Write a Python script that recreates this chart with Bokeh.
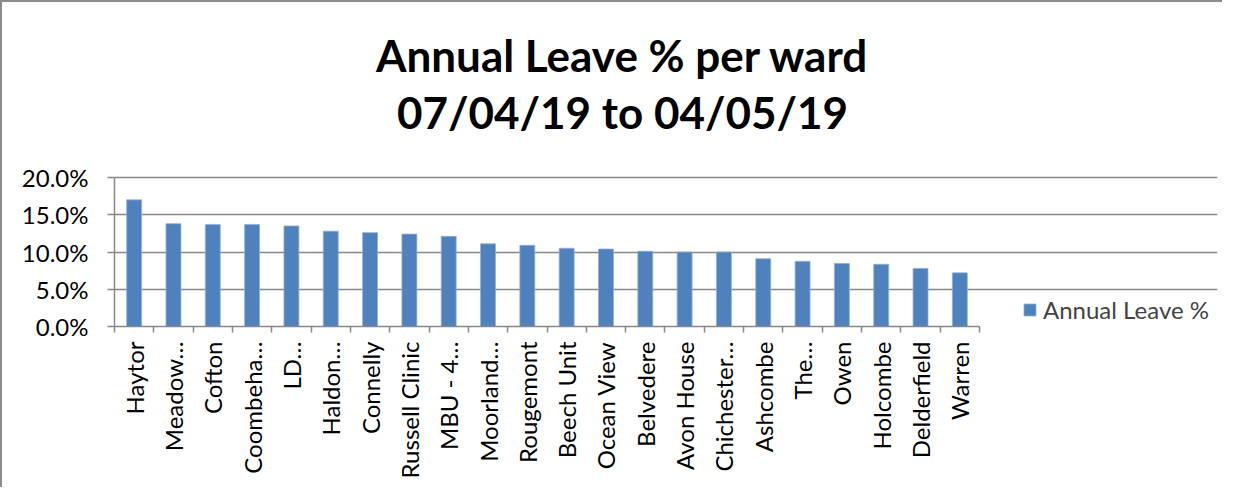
import numpy as np
from bokeh.plotting import figure
from bokeh.models import (ColumnDataSource, FixedTicker, NumeralTickFormatter, Range1d,
                          Label, Legend, LegendItem)
from bokeh.embed import file_html
from bokeh.resources import INLINE

wards = ["Haytor", "Meadow…", "Cofton", "Coombeha…", "LD…", "Haldon…", "Connelly",
         "Russell Clinic", "MBU - 4…", "Moorland…", "Rougemont", "Beech Unit",
         "Ocean View", "Belvedere", "Avon House", "Chichester…", "Ashcombe", "The…",
         "Owen", "Holcombe", "Delderfield", "Warren"]
leave_pct = [17.0, 13.8, 13.7, 13.7, 13.5, 12.8, 12.6, 12.4, 12.1, 11.1, 10.9, 10.5,
             10.4, 10.1, 10.0, 10.0, 9.1, 8.75, 8.45, 8.35, 7.8, 7.2]
y_ticks = [0.0, 0.05, 0.10, 0.15, 0.20]
title_lines = ["Annual Leave % per ward", "07/04/19 to 04/05/19"]
series_name = "Annual Leave %"

n = len(wards)
xpos = np.arange(n) + 0.5
src = ColumnDataSource(dict(x=xpos, y=np.array(leave_pct) / 100.0, ward=wards))

FONT = "Lato"
BAR = "#4F81BD"
GRID = "#888888"

W, H = 1222, 487
LEFT, RIGHT, TOP, BOTTOM = 114, 5, 0, 161
frame_w = W - LEFT - RIGHT
cat_px = 865.0 / n                 # category width in the reference, px
x_end = frame_w / cat_px
px_per_unit = 149.0 / 0.2          # 0..20% spans 149 px in the reference
y_end = 0.2 + 177.0 / px_per_unit  # frame reaches up to the top of the figure

p = figure(width=W, height=H, output_backend="svg", toolbar_location=None,
           x_range=Range1d(0, x_end), y_range=Range1d(0, y_end),
           min_border_left=LEFT, min_border_right=RIGHT, min_border_top=TOP,
           min_border_bottom=BOTTOM)
p.outline_line_color = None
p.background_fill_alpha = 0
p.border_fill_alpha = 0
p.styles = {"box-shadow": "inset 2px 2px 0 0 #8c8c8c"}

r = p.vbar(x="x", top="y", width=0.38, source=src, fill_color=BAR,
           line_color="#8FB0D8", line_width=0.8)

# x axis
xa = p.xaxis[0]
xa.bounds = (0, n)
xa.ticker = FixedTicker(ticks=list(xpos), minor_ticks=list(range(n + 1)))
xa.major_label_overrides = {float(x): w for x, w in zip(xpos, wards)}
xa.major_label_orientation = np.pi / 2
xa.major_tick_out = 0
xa.major_tick_in = 0
xa.minor_tick_out = 6
xa.minor_tick_in = 0
xa.minor_tick_line_color = GRID
xa.minor_tick_line_width = 1.5
xa.axis_line_color = GRID
xa.axis_line_width = 1.5
xa.major_label_standoff = 9
xa.major_label_text_font = FONT
xa.major_label_text_font_size = "24px"
xa.major_label_text_color = "black"

# y axis
ya = p.yaxis[0]
ya.bounds = (0, 0.2)
ya.ticker = FixedTicker(ticks=y_ticks)
ya.formatter = NumeralTickFormatter(format="0.0%")
ya.major_tick_out = 7
ya.major_tick_in = 0
ya.minor_tick_line_color = None
ya.major_tick_line_color = GRID
ya.major_tick_line_width = 1.5
ya.axis_line_color = GRID
ya.axis_line_width = 1.5
ya.major_label_standoff = 19
ya.major_label_text_font = FONT
ya.major_label_text_font_size = "24px"
ya.major_label_text_color = "black"

p.xgrid.grid_line_color = None
p.ygrid.ticker = FixedTicker(ticks=y_ticks)
p.ygrid.bounds = (0, n)
p.ygrid.grid_line_color = GRID
p.ygrid.grid_line_width = 1.5

# title (two lines), positioned relative to the frame's bottom-left corner
for i, t in enumerate(title_lines):
    p.add_layout(Label(x=508, y=272 - 57 * i, x_units="screen", y_units="screen",
                       text=t, text_align="center", text_baseline="alphabetic",
                       text_font=FONT, text_font_style="bold",
                       text_font_size="44px", text_color="black"))

# legend
legend = Legend(items=[LegendItem(label=series_name, renderers=[r])],
                location=(908, 2), glyph_width=15, glyph_height=15,
                label_height=15, label_text_font=FONT, label_text_font_size="24px",
                label_standoff=6, padding=0, margin=0, border_line_color=None,
                background_fill_alpha=0)
p.add_layout(legend, "center")

open("out.html", "w").write(file_html(p, INLINE))
